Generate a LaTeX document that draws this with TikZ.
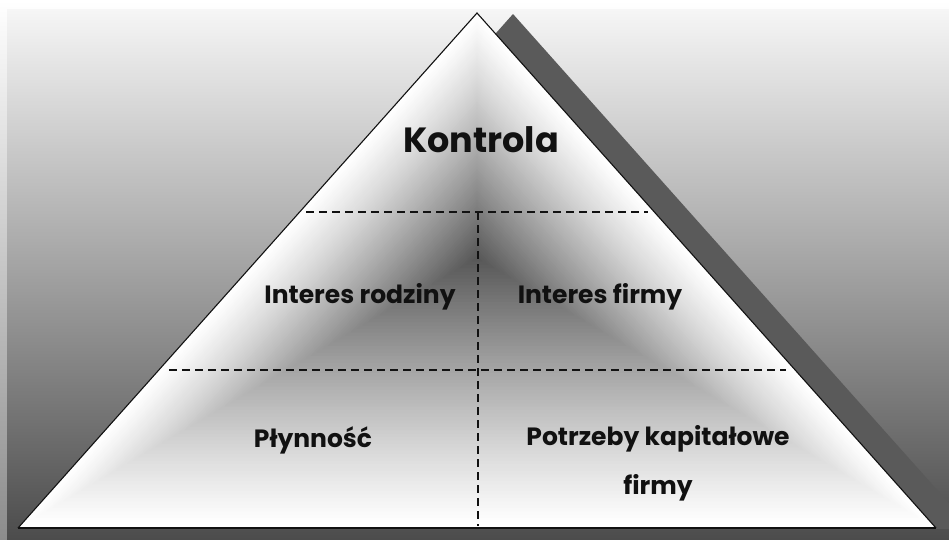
\documentclass[tikz,border=0pt]{standalone}
\usepackage{fontspec}
\setmainfont{Poppins}
\usetikzlibrary{calc}
\definecolor{ctr}{HTML}{565656}
\definecolor{shadowgray}{HTML}{5A5A5A}
\definecolor{bgbottom}{HTML}{4C4C4C}
\definecolor{bgtop}{HTML}{F6F6F6}
\definecolor{inkblack}{HTML}{111111}
\tikzset{
  divider/.style={draw=inkblack, line width=2pt, dash pattern=on 8pt off 5pt},
  label/.style={font=\bfseries\fontsize{25}{30}\selectfont, text=inkblack, inner sep=0pt, align=center},
}
\begin{document}
\begin{tikzpicture}[x=1pt,y=-1pt]
\useasboundingbox (0,0) rectangle (949,539);
\clip (0,0) rectangle (949,539);
% background
\shade[top color=white, bottom color=gray!90] (0,0) rectangle (949,539);
\shade[top color=bgtop, bottom color=bgbottom] (7,9) rectangle (949,539);
% pyramid vertices
\coordinate (A) at (477,13);
\coordinate (B) at (18,528);
\coordinate (C) at (936,528);
\coordinate (c) at (477,258);
% shadow
\fill[shadowgray] ($(A)+(36,1)$) -- ($(B)+(36,1)$) -- ($(C)+(36,1)$) -- cycle;
% path gradient by nested triangles
\foreach \i in {0,...,79}{
  \pgfmathsetmacro\s{1-\i/80}
  \pgfmathsetmacro\p{100*(1-\s)^1.15}
  \fill[ctr!\p!white] ($(c)!\s!(A)$) -- ($(c)!\s!(B)$) -- ($(c)!\s!(C)$) -- cycle;
}
% outline
\draw[inkblack, line width=1.1pt, line join=miter] (B) -- (A) -- (C);
\draw[inkblack, line width=2.6pt] (B) -- (C);
% dividers
\coordinate (h1l) at (306,212);
\coordinate (h1r) at (648,212);
\coordinate (h2l) at (169,370);
\coordinate (h2r) at (786,370);
\coordinate (vt) at (478,212);
\coordinate (vb) at (478,526);
\draw[divider] (h1l) -- (h1r);
\draw[divider] (h2l) -- (h2r);
\draw[divider] (vt) -- (vb);
% labels
\node[label, font=\bfseries\fontsize{35}{40}\selectfont] (kontrola) at (481,140) {Kontrola};
\node[label] (rodzina) at (360,297) {Interes rodziny};
\node[label] (firma) at (600,297) {Interes firmy};
\node[label] (plyn) at (313,440) {Płynność};
\node[label] (kapital) at (658,463) {Potrzeby kapitałowe\\[19pt]firmy};
\end{tikzpicture}
\end{document}
